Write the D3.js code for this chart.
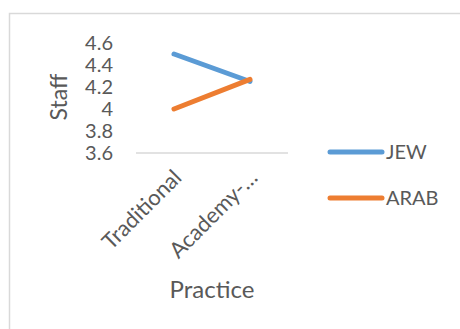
<!DOCTYPE html>
<html>
<head>
<meta charset="utf-8">
<script src="https://cdn.jsdelivr.net/npm/d3@7"></script>
<style>
  body { margin: 0; background: #fff; }
  text { font-family: Lato, "Open Sans", sans-serif; fill: #595959; }
</style>
</head>
<body>
<svg id="chart" width="460" height="329"></svg>
<script>
// dados do grafico
var categorias = ["Traditional", "Academy-…"];
var serieNomes = ["JEW", "ARAB"];
var serieCores = ["#5B9BD5", "#ED7D31"];
var valoresJew = [4.5, 4.25];
var valoresArab = [4.0, 4.27];
var ticksY = [3.6, 3.8, 4.0, 4.2, 4.4, 4.6];

var series = [
  { nome: serieNomes[0], cor: serieCores[0], valores: valoresJew },
  { nome: serieNomes[1], cor: serieCores[1], valores: valoresArab }
];

var svg = d3.select("#chart");

// moldura da area do grafico
svg.append("rect")
  .attr("x", 9.5).attr("y", 13.5)
  .attr("width", 470).attr("height", 340)
  .attr("fill", "none")
  .attr("stroke", "#d9d9d9")
  .attr("stroke-width", 1.5);

// escalas
var xScale = d3.scaleBand().domain(categorias).range([136, 288]);
var yScale = d3.scaleLinear().domain([3.6, 4.6]).range([153, 43]);

// linha do eixo x
svg.append("line")
  .attr("x1", 136).attr("x2", 288)
  .attr("y1", yScale(3.6)).attr("y2", yScale(3.6))
  .attr("stroke", "#d9d9d9").attr("stroke-width", 1.5);

// rotulos eixo y
svg.selectAll(".tickY")
  .data(ticksY)
  .enter()
  .append("text")
  .attr("class", "tickY")
  .attr("x", 113)
  .attr("y", function(d) { return yScale(d); })
  .attr("dy", "0.36em")
  .attr("text-anchor", "end")
  .attr("font-size", "20px")
  .text(function(d) { return d3.format("")(+d.toFixed(1)); });

// rotulos eixo x (rotacionados)
svg.selectAll(".tickX")
  .data(categorias)
  .enter()
  .append("text")
  .attr("class", "tickX")
  .attr("text-anchor", "end")
  .attr("font-size", "22px")
  .attr("transform", function(d) {
    var cx = xScale(d) + xScale.bandwidth() / 2 + 9;
    return "translate(" + cx + "," + 179 + ") rotate(-45)";
  })
  .text(function(d) { return d; });

// titulos dos eixos
svg.append("text")
  .attr("transform", "translate(67,97) rotate(-90)")
  .attr("text-anchor", "middle")
  .attr("font-size", "23px")
  .text("Staff");

svg.append("text")
  .attr("x", 212).attr("y", 298)
  .attr("text-anchor", "middle")
  .attr("font-size", "24px")
  .text("Practice");

// linhas das series
var linha = d3.line()
  .x(function(d, i) { return xScale(categorias[i]) + xScale.bandwidth() / 2; })
  .y(function(d) { return yScale(d); });

svg.selectAll(".serie")
  .data(series)
  .enter()
  .append("path")
  .attr("class", "serie")
  .attr("d", function(d) { return linha(d.valores); })
  .attr("fill", "none")
  .attr("stroke", function(d) { return d.cor; })
  .attr("stroke-width", 5)
  .attr("stroke-linecap", "round");

// legenda
var legenda = svg.selectAll(".legenda")
  .data(series)
  .enter()
  .append("g")
  .attr("class", "legenda")
  .attr("transform", function(d, i) { return "translate(0," + (152 + i * 46) + ")"; });

legenda.append("line")
  .attr("x1", 330).attr("x2", 382)
  .attr("stroke", function(d) { return d.cor; })
  .attr("stroke-width", 5)
  .attr("stroke-linecap", "round");

legenda.append("text")
  .attr("x", 386)
  .attr("dy", "0.36em")
  .attr("font-size", "20px")
  .text(function(d) { return d.nome; });
</script>
</body>
</html>
